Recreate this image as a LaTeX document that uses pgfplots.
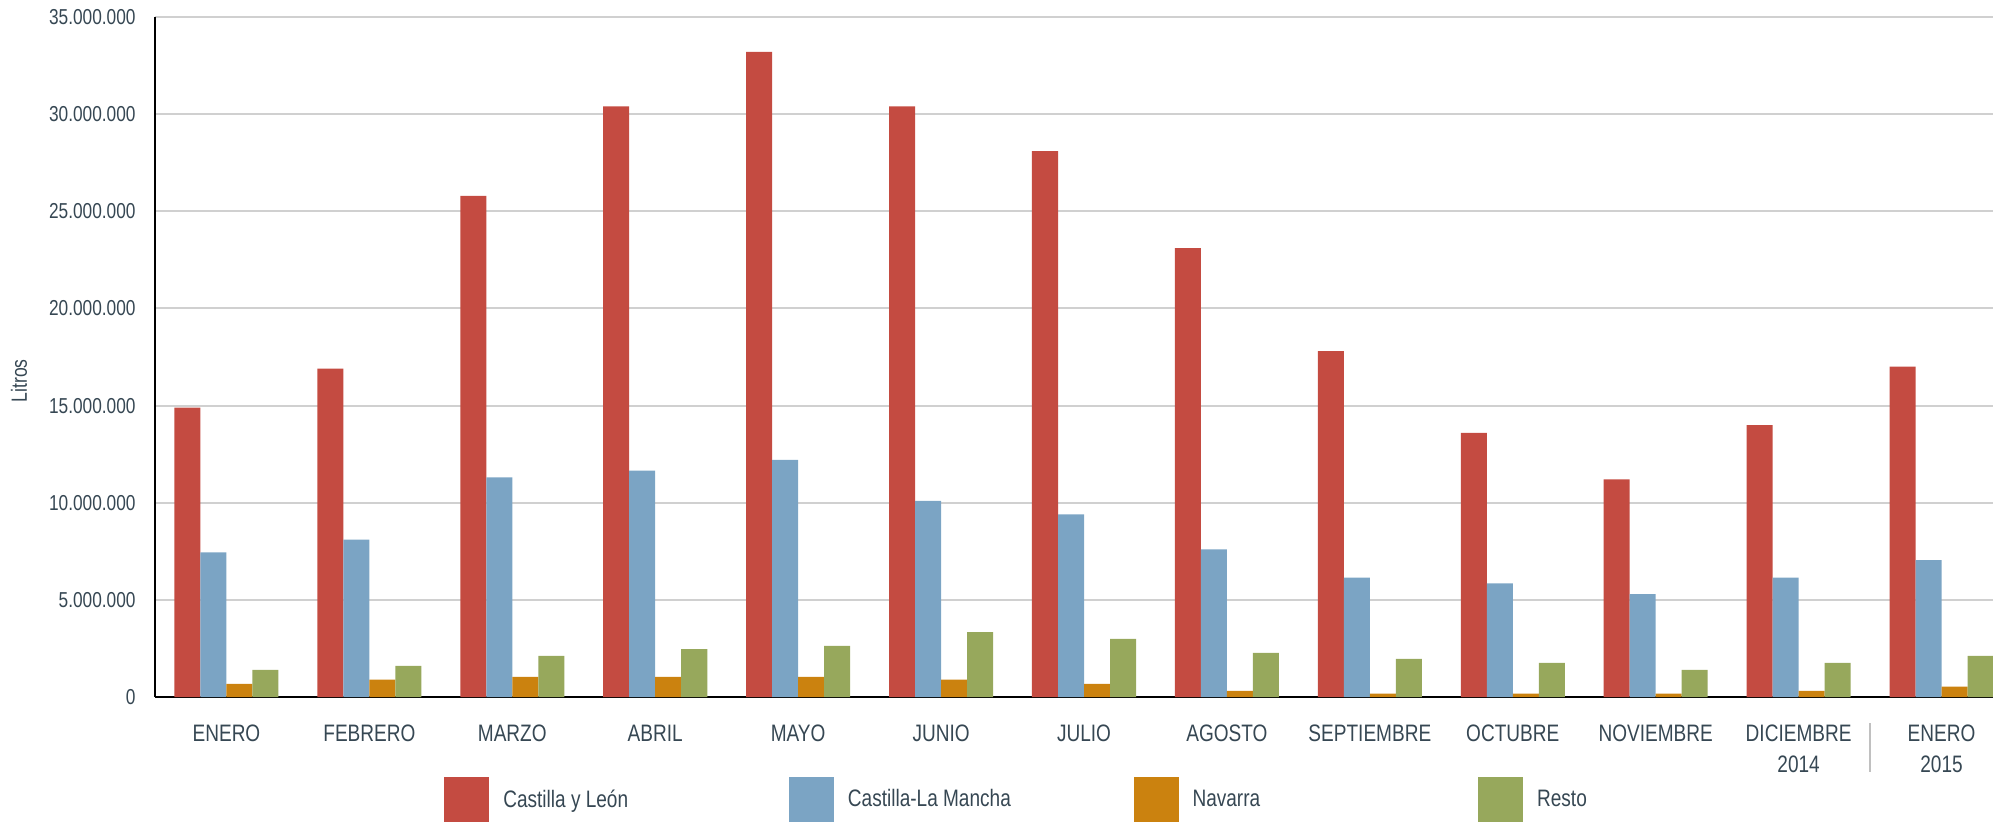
\documentclass[border=0pt]{standalone}
\usepackage{fontspec}
\setmainfont{Liberation Sans}[FakeStretch=0.8]
\usepackage{pgfplots}
\pgfplotsset{compat=1.18}
\definecolor{cRed}{HTML}{C44B41}
\definecolor{cBlue}{HTML}{7BA4C4}
\definecolor{cOrange}{HTML}{CB820F}
\definecolor{cGreen}{HTML}{97A85C}
\definecolor{cText}{HTML}{364753}
\definecolor{cGrid}{HTML}{D0D0D0}
\begin{document}
\begin{tikzpicture}
\begin{axis}[
  scale only axis,
  width=919pt, height=340pt,
  ybar=0pt, bar width=0.182,
  xmin=-0.5, xmax=12.36,
  ymin=0, ymax=35000000,
  xtick=data,
  xticklabels={ENERO,FEBRERO,MARZO,ABRIL,MAYO,JUNIO,JULIO,AGOSTO,SEPTIEMBRE,OCTUBRE,NOVIEMBRE,DICIEMBRE\\2014,ENERO\\2015},
  ytick={0,5000000,10000000,15000000,20000000,25000000,30000000,35000000},
  scaled y ticks=false,
  /pgf/number format/.cd, fixed, 1000 sep={.}, assume math mode=true,
  /pgfplots/.cd,
  yticklabel style={font={\fontsize{10.8}{12}\selectfont}, text=cText, xshift=-6.2pt},
  xticklabel style={font={\fontsize{11.9}{15.5}\selectfont}, text=cText, align=center, yshift=-10.3pt},
  major tick length=0pt,
  axis lines*=left,
  axis line style={black, line width=1.1pt},
  ymajorgrids, major grid style={cGrid, line width=1pt},
  ylabel={Litros},
  ylabel style={font={\fontsize{11}{13}\selectfont}, text=cText, at={(axis description cs:-0.074,0.465)}, anchor=center},
  clip=false,
  legend columns=4,
  legend style={draw=none, fill=none, inner sep=0pt, nodes={inner sep=0pt},
    at={(rel axis cs:0.1572,-0.1176)}, anchor=north west,
    font={\fontsize{11.9}{14}\selectfont}, text=cText,
    /tikz/every even column/.append style={column sep=0pt}},
  legend image code/.code={\fill[#1] (0pt,-11.25pt) rectangle (22.5pt,11.25pt);},
]
\addplot[fill=cRed, draw=none] coordinates {(0,14900000) (1,16900000) (2,25800000) (3,30400000) (4,33200000) (5,30400000) (6,28100000) (7,23100000) (8,17800000) (9,13600000) (10,11200000) (11,14000000) (12,17000000)};
\addplot[fill=cBlue, draw=none] coordinates {(0,7450000) (1,8100000) (2,11300000) (3,11650000) (4,12200000) (5,10100000) (6,9400000) (7,7600000) (8,6150000) (9,5850000) (10,5300000) (11,6150000) (12,7050000)};
\addplot[fill=cOrange, draw=none] coordinates {(0,680000) (1,890000) (2,1040000) (3,1040000) (4,1040000) (5,890000) (6,680000) (7,320000) (8,170000) (9,170000) (10,170000) (11,320000) (12,530000)};
\addplot[fill=cGreen, draw=none] coordinates {(0,1400000) (1,1600000) (2,2120000) (3,2470000) (4,2630000) (5,3340000) (6,2990000) (7,2270000) (8,1960000) (9,1760000) (10,1400000) (11,1760000) (12,2120000)};
\legend{{\makebox[149.8pt][l]{\hspace{7pt}Castilla y León}},{\makebox[149.8pt][l]{\hspace{7pt}Castilla-La Mancha}},{\makebox[149.8pt][l]{\hspace{7pt}Navarra}},{\makebox[149.8pt][l]{\hspace{7pt}Resto}}}
\draw[cGrid!80!gray, line width=0.8pt] ([yshift=-13pt]axis cs:11.5,0) -- ([yshift=-37.5pt]axis cs:11.5,0);
\end{axis}
\pgfresetboundingbox
\path[use as bounding box] (current axis.south west) ++(-77.5pt,-62pt) rectangle ++(996.5pt,410.5pt);
\end{tikzpicture}
\end{document}
